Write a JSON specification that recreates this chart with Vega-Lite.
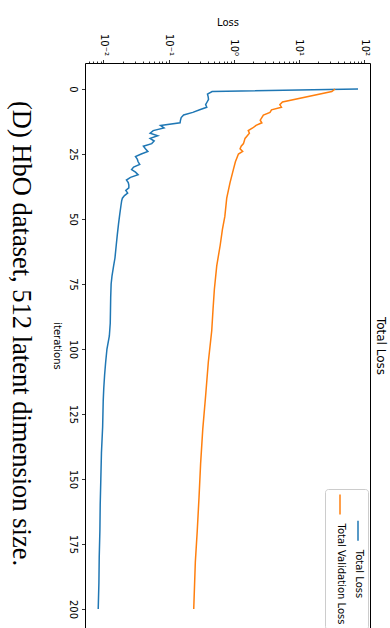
{
  "$schema": "https://vega.github.io/schema/vega-lite/v6.json",
  "autosize": {"type": "none"},
  "width": 285,
  "height": 565,
  "padding": {"left": 85, "top": 63, "right": 20, "bottom": 0},
  "background": "white",
  "title": {
    "text": "(D) HbO dataset, 512 latent dimension size.",
    "orient": "left",
    "angle": 90,
    "font": "Liberation Serif",
    "fontSize": 26.5,
    "fontWeight": "normal",
    "color": "black",
    "baseline": "top",
    "anchor": "middle",
    "offset": -9,
    "dx": -12
  },
  "data": {
    "values": [
      {"iter": 0, "loss": 81, "series": "Total Loss"},
      {"iter": 1, "loss": 0.465, "series": "Total Loss"},
      {"iter": 2, "loss": 0.395, "series": "Total Loss"},
      {"iter": 3, "loss": 0.405, "series": "Total Loss"},
      {"iter": 4, "loss": 0.41, "series": "Total Loss"},
      {"iter": 5, "loss": 0.39, "series": "Total Loss"},
      {"iter": 6, "loss": 0.37, "series": "Total Loss"},
      {"iter": 7, "loss": 0.385, "series": "Total Loss"},
      {"iter": 8, "loss": 0.3, "series": "Total Loss"},
      {"iter": 9, "loss": 0.235, "series": "Total Loss"},
      {"iter": 10, "loss": 0.17, "series": "Total Loss"},
      {"iter": 11, "loss": 0.156, "series": "Total Loss"},
      {"iter": 12, "loss": 0.152, "series": "Total Loss"},
      {"iter": 13, "loss": 0.15, "series": "Total Loss"},
      {"iter": 14, "loss": 0.075, "series": "Total Loss"},
      {"iter": 15, "loss": 0.085, "series": "Total Loss"},
      {"iter": 16, "loss": 0.058, "series": "Total Loss"},
      {"iter": 17, "loss": 0.052, "series": "Total Loss"},
      {"iter": 18, "loss": 0.068, "series": "Total Loss"},
      {"iter": 19, "loss": 0.052, "series": "Total Loss"},
      {"iter": 20, "loss": 0.06, "series": "Total Loss"},
      {"iter": 21, "loss": 0.055, "series": "Total Loss"},
      {"iter": 22, "loss": 0.041, "series": "Total Loss"},
      {"iter": 23, "loss": 0.044, "series": "Total Loss"},
      {"iter": 24, "loss": 0.048, "series": "Total Loss"},
      {"iter": 25, "loss": 0.038, "series": "Total Loss"},
      {"iter": 26, "loss": 0.031, "series": "Total Loss"},
      {"iter": 27, "loss": 0.033, "series": "Total Loss"},
      {"iter": 28, "loss": 0.034, "series": "Total Loss"},
      {"iter": 29, "loss": 0.036, "series": "Total Loss"},
      {"iter": 30, "loss": 0.029, "series": "Total Loss"},
      {"iter": 31, "loss": 0.027, "series": "Total Loss"},
      {"iter": 32, "loss": 0.031, "series": "Total Loss"},
      {"iter": 33, "loss": 0.034, "series": "Total Loss"},
      {"iter": 34, "loss": 0.026, "series": "Total Loss"},
      {"iter": 35, "loss": 0.0225, "series": "Total Loss"},
      {"iter": 36, "loss": 0.024, "series": "Total Loss"},
      {"iter": 37, "loss": 0.0245, "series": "Total Loss"},
      {"iter": 38, "loss": 0.0245, "series": "Total Loss"},
      {"iter": 39, "loss": 0.022, "series": "Total Loss"},
      {"iter": 40, "loss": 0.0235, "series": "Total Loss"},
      {"iter": 41, "loss": 0.021, "series": "Total Loss"},
      {"iter": 42, "loss": 0.0195, "series": "Total Loss"},
      {"iter": 43, "loss": 0.019, "series": "Total Loss"},
      {"iter": 45, "loss": 0.0185, "series": "Total Loss"},
      {"iter": 48, "loss": 0.0178, "series": "Total Loss"},
      {"iter": 52, "loss": 0.017, "series": "Total Loss"},
      {"iter": 56, "loss": 0.0163, "series": "Total Loss"},
      {"iter": 60, "loss": 0.0157, "series": "Total Loss"},
      {"iter": 65, "loss": 0.015, "series": "Total Loss"},
      {"iter": 68, "loss": 0.0143, "series": "Total Loss"},
      {"iter": 72, "loss": 0.0135, "series": "Total Loss"},
      {"iter": 75, "loss": 0.0131, "series": "Total Loss"},
      {"iter": 80, "loss": 0.0129, "series": "Total Loss"},
      {"iter": 85, "loss": 0.0128, "series": "Total Loss"},
      {"iter": 90, "loss": 0.0127, "series": "Total Loss"},
      {"iter": 95, "loss": 0.0123, "series": "Total Loss"},
      {"iter": 100, "loss": 0.0113, "series": "Total Loss"},
      {"iter": 105, "loss": 0.0108, "series": "Total Loss"},
      {"iter": 110, "loss": 0.0104, "series": "Total Loss"},
      {"iter": 115, "loss": 0.0101, "series": "Total Loss"},
      {"iter": 120, "loss": 0.0099, "series": "Total Loss"},
      {"iter": 130, "loss": 0.0097, "series": "Total Loss"},
      {"iter": 140, "loss": 0.0093, "series": "Total Loss"},
      {"iter": 150, "loss": 0.0091, "series": "Total Loss"},
      {"iter": 160, "loss": 0.0089, "series": "Total Loss"},
      {"iter": 170, "loss": 0.0088, "series": "Total Loss"},
      {"iter": 180, "loss": 0.0086, "series": "Total Loss"},
      {"iter": 190, "loss": 0.0085, "series": "Total Loss"},
      {"iter": 200, "loss": 0.0083, "series": "Total Loss"},
      {"iter": 0, "loss": 36, "series": "Total Validation Loss"},
      {"iter": 1, "loss": 32, "series": "Total Validation Loss"},
      {"iter": 5, "loss": 5.6, "series": "Total Validation Loss"},
      {"iter": 6, "loss": 5.1, "series": "Total Validation Loss"},
      {"iter": 7, "loss": 5.4, "series": "Total Validation Loss"},
      {"iter": 8, "loss": 3.8, "series": "Total Validation Loss"},
      {"iter": 9, "loss": 3.6, "series": "Total Validation Loss"},
      {"iter": 10, "loss": 2.85, "series": "Total Validation Loss"},
      {"iter": 12, "loss": 2.55, "series": "Total Validation Loss"},
      {"iter": 13, "loss": 2.7, "series": "Total Validation Loss"},
      {"iter": 14, "loss": 2.2, "series": "Total Validation Loss"},
      {"iter": 15, "loss": 1.95, "series": "Total Validation Loss"},
      {"iter": 16, "loss": 1.67, "series": "Total Validation Loss"},
      {"iter": 17, "loss": 1.74, "series": "Total Validation Loss"},
      {"iter": 19, "loss": 1.49, "series": "Total Validation Loss"},
      {"iter": 21, "loss": 1.41, "series": "Total Validation Loss"},
      {"iter": 22, "loss": 1.3, "series": "Total Validation Loss"},
      {"iter": 23, "loss": 1.25, "series": "Total Validation Loss"},
      {"iter": 24, "loss": 1.37, "series": "Total Validation Loss"},
      {"iter": 25, "loss": 1.18, "series": "Total Validation Loss"},
      {"iter": 28, "loss": 1.06, "series": "Total Validation Loss"},
      {"iter": 31, "loss": 0.986, "series": "Total Validation Loss"},
      {"iter": 36, "loss": 0.877, "series": "Total Validation Loss"},
      {"iter": 42, "loss": 0.78, "series": "Total Validation Loss"},
      {"iter": 49, "loss": 0.73, "series": "Total Validation Loss"},
      {"iter": 54, "loss": 0.67, "series": "Total Validation Loss"},
      {"iter": 60, "loss": 0.62, "series": "Total Validation Loss"},
      {"iter": 68, "loss": 0.548, "series": "Total Validation Loss"},
      {"iter": 77, "loss": 0.504, "series": "Total Validation Loss"},
      {"iter": 85, "loss": 0.48, "series": "Total Validation Loss"},
      {"iter": 93, "loss": 0.459, "series": "Total Validation Loss"},
      {"iter": 105, "loss": 0.407, "series": "Total Validation Loss"},
      {"iter": 118, "loss": 0.37, "series": "Total Validation Loss"},
      {"iter": 131, "loss": 0.334, "series": "Total Validation Loss"},
      {"iter": 144, "loss": 0.31, "series": "Total Validation Loss"},
      {"iter": 157, "loss": 0.293, "series": "Total Validation Loss"},
      {"iter": 170, "loss": 0.275, "series": "Total Validation Loss"},
      {"iter": 182, "loss": 0.257, "series": "Total Validation Loss"},
      {"iter": 200, "loss": 0.243, "series": "Total Validation Loss"}
    ]
  },
  "layer": [
    {
      "mark": {"type": "line", "strokeWidth": 1.5, "clip": true},
      "encoding": {
        "x": {
          "field": "loss", "type": "quantitative",
          "scale": {"type": "log", "domain": [0.0052, 123.6], "nice": false},
          "axis": {
            "orient": "top",
            "values": [0.01, 0.1, 1, 10, 100],
            "labelExpr": "datum.value < 0.05 ? '10⁻²' : datum.value < 0.5 ? '10⁻¹' : datum.value < 5 ? '10⁰' : datum.value < 50 ? '10¹' : '10²'",
            "labelAngle": 90,
            "labelAlign": "right",
            "labelBaseline": "middle",
            "labelPadding": 4,
            "tickSize": 3.5,
            "title": "Loss",
            "titlePadding": 6
          }
        },
        "y": {
          "field": "iter", "type": "quantitative",
          "scale": {"domain": [-10, 207.3], "nice": false, "zero": false, "reverse": true},
          "axis": {
            "orient": "left",
            "values": [0, 25, 50, 75, 100, 125, 150, 175, 200],
            "labelAngle": 90,
            "labelAlign": "center",
            "labelBaseline": "top",
            "labelPadding": 4,
            "tickSize": 3.5,
            "title": "iterations",
            "titleAngle": 90,
            "titleBaseline": "top",
            "titlePadding": 6
          }
        },
        "order": {"field": "iter", "type": "quantitative"},
        "color": {
          "field": "series", "type": "nominal",
          "scale": {"domain": ["Total Loss", "Total Validation Loss"], "range": ["#1f77b4", "#ff7f0e"]},
          "legend": {
            "orient": "none",
            "legendX": 240,
            "legendY": 426,
            "direction": "horizontal",
            "values": ["Total Validation Loss", "Total Loss"],
            "title": null,
            "symbolType": "M0,-1L0,1",
            "symbolSize": 400,
            "symbolStrokeWidth": 1.5,
            "labelOffset": -10,
            "labelFont": "DejaVu Sans",
            "labelFontSize": 10,
            "labelColor": "black",
            "padding": 4,
            "columnPadding": -6,
            "fillColor": "white",
            "strokeColor": "#cccccc",
            "cornerRadius": 3,
            "encode": {
              "labels": {"update": {"angle": {"value": 90}, "dx": {"value": 19}}}
            }
          }
        }
      }
    },
    {
      "mark": {"type": "line", "opacity": 0},
      "encoding": {
        "x": {
          "field": "loss", "type": "quantitative",
          "axis": {
            "orient": "top",
            "values": [0.006, 0.007, 0.008, 0.009, 0.02, 0.03, 0.04, 0.05, 0.06, 0.07, 0.08, 0.09, 0.2, 0.3, 0.4, 0.5, 0.6, 0.7, 0.8, 0.9, 2, 3, 4, 5, 6, 7, 8, 9, 20, 30, 40, 50, 60, 70, 80, 90],
            "labels": false,
            "domain": false,
            "tickSize": 2,
            "title": null
          }
        },
        "y": {
          "field": "iter", "type": "quantitative",
          "axis": {
            "orient": "right",
            "labels": false,
            "ticks": false,
            "domain": false,
            "title": "Total Loss",
            "titleAngle": 90,
            "titleBaseline": "bottom",
            "titleFontSize": 12,
            "titlePadding": 3
          }
        },
        "order": {"field": "iter", "type": "quantitative"},
        "detail": {"field": "series", "type": "nominal"}
      }
    }
  ],
  "resolve": {"axis": {"x": "independent", "y": "independent"}},
  "config": {
    "font": "DejaVu Sans",
    "view": {"stroke": "#000000", "strokeWidth": 1},
    "axis": {
      "grid": false,
      "domain": false,
      "labelFont": "DejaVu Sans",
      "labelFontSize": 10,
      "labelColor": "black",
      "labelFlush": false,
      "labelOverlap": false,
      "tickColor": "black",
      "tickWidth": 0.8,
      "titleFont": "DejaVu Sans",
      "titleFontSize": 10,
      "titleFontWeight": "normal",
      "titleColor": "black"
    }
  }
}
